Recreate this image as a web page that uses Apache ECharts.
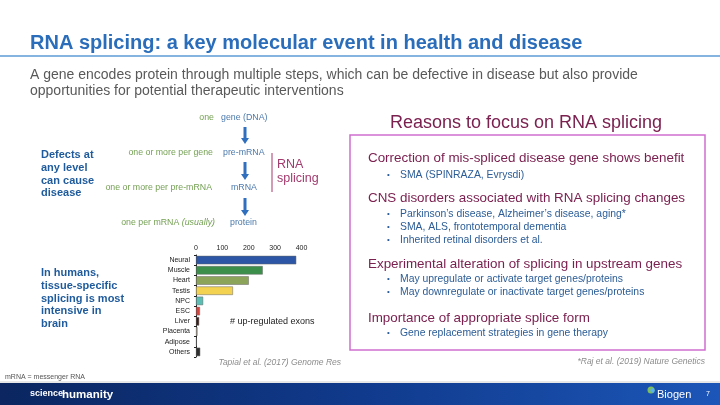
<!DOCTYPE html>
<html><head><meta charset="utf-8">
<script src="https://cdn.jsdelivr.net/npm/echarts@6/dist/echarts.min.js"></script>
<style>html,body{margin:0;padding:0;background:#fff}#c{width:720px;height:405px}</style>
</head><body><div id="c"></div>
<script>
// ---- data ----
const tissues = ['Neural','Muscle','Heart','Testis','NPC','ESC','Liver','Placenta','Adipose','Others'];
const upExons = [380, 253, 200, 140, 27, 15, 12, 6, 3, 16];
const axisTicks = [0, 100, 200, 300, 400];
const barColors = ['#2d57a6','#3c8f4b','#8ca35a','#f2d250','#5bbdb4','#d9413b','#3b1d17','#c9b9a9','#3d3d3d','#2e2e2e'];

const F = "'Liberation Sans', Arial, sans-serif";
const chart = echarts.init(document.getElementById('c'), null, {renderer:'canvas'});

function txt(x, y, text, size, fill, opts) {
  opts = opts || {};
  return {type:'text', x:x, y:y, silent:true, z:10, style:Object.assign({
    text:text, fill:fill, font:(opts.style||'') + ' ' + (opts.weight||'normal') + ' ' + size + 'px ' + F,
    align:opts.align||'left', verticalAlign:'middle'}, opts.extra||{})};
}
function arrow(x, y1, y2, color) {
  return {type:'group', silent:true, children:[
    {type:'line', shape:{x1:x, y1:y1, x2:x, y2:y2-5}, style:{stroke:color, lineWidth:3}},
    {type:'polygon', shape:{points:[[x-4,y2-6],[x+4,y2-6],[x,y2]]}, style:{fill:color}}
  ]};
}

const green = '#74a053', dblue = '#4a78ab', maroon = '#7b2150', bblue = '#2b5c96', hblue = '#1f5b9c';
const g = [];
// title + subtitle
g.push(txt(30, 43, 'RNA splicing: a key molecular event in health and disease', 20, '#2a6ebb', {weight:'bold'}));
g.push({type:'line', shape:{x1:0,y1:56,x2:720,y2:56}, style:{stroke:'#5b9bd5', lineWidth:1.5}});
g.push(txt(30, 75, 'A gene encodes protein through multiple steps, which can be defective in disease but also provide', 14, '#595959'));
g.push(txt(30, 91, 'opportunities for potential therapeutic interventions', 14, '#595959'));

// diagram
const ds = 8.8;
g.push(txt(214, 118, 'one', ds, green, {align:'right'}));
g.push(txt(221, 118, 'gene (DNA)', ds, dblue));
g.push(arrow(245, 127, 144, '#2f6fbd'));
g.push(txt(213, 153, 'one or more per gene', ds, green, {align:'right'}));
g.push(txt(223, 153, 'pre-mRNA', ds, dblue));
g.push(arrow(245, 162, 180, '#2f6fbd'));
g.push(txt(212, 188, 'one or more per pre-mRNA', ds, green, {align:'right'}));
g.push(txt(231, 188, 'mRNA', ds, dblue));
g.push(arrow(245, 198, 216, '#2f6fbd'));
g.push(txt(215, 223, 'one per mRNA {i|(usually)}', ds, green, {align:'right', extra:{rich:{i:{fontStyle:'italic', fontSize:ds, fontFamily:F, fill:green}}}}));
g.push(txt(230, 223, 'protein', ds, dblue));
g.push({type:'line', shape:{x1:272,y1:153,x2:272,y2:192}, style:{stroke:'#a8376e', lineWidth:1}});
g.push(txt(277, 165, 'RNA', 12.5, '#a23a6e'));
g.push(txt(277, 179, 'splicing', 12.5, '#a23a6e'));

// left labels
['Defects at','any level','can cause','disease'].forEach((s,i)=>g.push(txt(41, 155+i*12.8, s, 11, hblue, {weight:'bold'})));
['In humans,','tissue-specific','splicing is most','intensive in','brain'].forEach((s,i)=>g.push(txt(41, 273+i*12.8, s, 11, hblue, {weight:'bold'})));

g.push(txt(230, 322, '# up-regulated exons', 9, '#222'));
g.push(txt(341, 363, 'Tapial et al. (2017) Genome Res', 8.5, '#8c8c8c', {align:'right', style:'italic'}));

// right box
g.push(txt(526, 123, 'Reasons to focus on RNA splicing', 18, maroon, {align:'center'}));
g.push({type:'rect', shape:{x:350,y:135,width:355,height:215}, style:{fill:'none', stroke:'#cf6fcf', lineWidth:1.5}});
const heads = [
  ['Correction of mis-spliced disease gene shows benefit', 158, [['SMA (SPINRAZA, Evrysdi)',175]]],
  ['CNS disorders associated with RNA splicing changes', 198, [["Parkinson\u2019s disease, Alzheimer\u2019s disease, aging*",214],['SMA, ALS, frontotemporal dementia',227],['Inherited retinal disorders et al.',240]]],
  ['Experimental alteration of splicing in upstream genes', 264, [['May upregulate or activate target genes/proteins',279],['May downregulate or inactivate target genes/proteins',292]]],
  ['Importance of appropriate splice form', 318, [['Gene replacement strategies in gene therapy',333]]]
];
heads.forEach(h=>{
  g.push(txt(368, h[1], h[0], 13.4, maroon));
  h[2].forEach(b=>{ g.push(txt(387, b[1], '\u2022', 8, bblue)); g.push(txt(400, b[1], b[0], 10.4, bblue)); });
});
g.push(txt(705, 362, '*Raj et al. (2019) Nature Genetics', 8.5, '#8c8c8c', {align:'right', style:'italic'}));

// footer
g.push(txt(5, 377, 'mRNA = messenger RNA', 7, '#555'));
g.push({type:'line', shape:{x1:0,y1:382,x2:720,y2:382}, style:{stroke:'#d0d0d0', lineWidth:1}});
g.push({type:'rect', shape:{x:0,y:383,width:720,height:22}, style:{fill:{type:'linear',x:0,y:0,x2:1,y2:0,colorStops:[{offset:0,color:'#0b2660'},{offset:0.5,color:'#103a8c'},{offset:1,color:'#1c56b8'}]}}});
g.push(txt(30, 394, 'science', 9, '#fff', {weight:'bold'}));
g.push(txt(62, 395, 'humanity', 11.5, '#fff', {weight:'bold'}));
g.push({type:'circle', shape:{cx:651,cy:390,r:3.5}, style:{fill:'#7fbf5a'}, z:10});
g.push({type:'circle', shape:{cx:652.5,cy:390.5,r:2.2}, style:{fill:'#5ab0e8'}, z:11});
g.push(txt(657, 395, 'Biogen', 11, '#fff'));
g.push(txt(706, 394, '7', 7, '#fff'));

chart.setOption({
  animation:false,
  backgroundColor:'#fff',
  graphic:g,
  grid:{left:196, top:255, width:105.5, height:102, containLabel:false},
  xAxis:{type:'value', position:'top', min:axisTicks[0], max:axisTicks[axisTicks.length-1], interval:100,
    axisLine:{show:false}, axisTick:{show:false}, splitLine:{show:false},
    axisLabel:{fontSize:7, color:'#222', fontFamily:F, margin:3}},
  yAxis:{type:'category', data:tissues, inverse:true,
    axisLine:{show:true, lineStyle:{color:'#222', width:1}}, axisTick:{show:true, length:2, lineStyle:{color:'#222'}},
    axisLabel:{fontSize:7, color:'#222', fontFamily:F, margin:6}},
  series:[{type:'bar', barWidth:8.5,
    data:upExons.map((v,i)=>({value:v, itemStyle:{color:barColors[i], borderColor:'#666', borderWidth:0.5}}))}]
});
</script></body></html>
